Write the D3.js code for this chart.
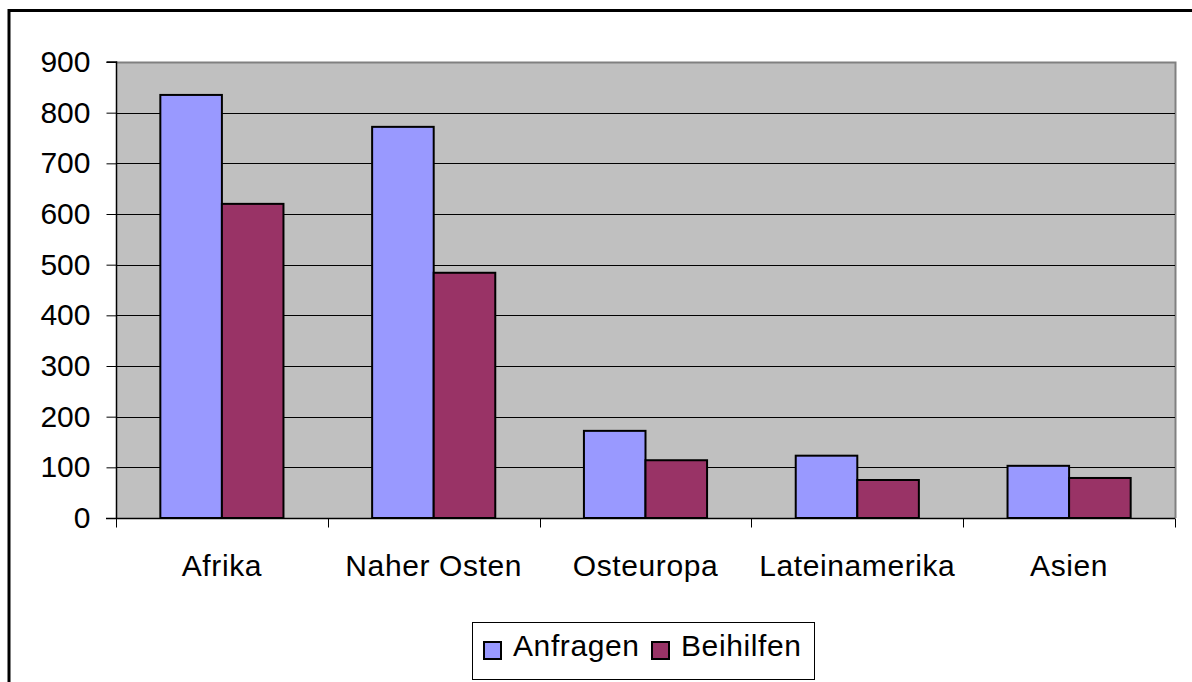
<!DOCTYPE html>
<html><head><meta charset="utf-8">
<script src="https://cdn.jsdelivr.net/npm/d3@7"></script>
<style>html,body{margin:0;padding:0;background:#fff;overflow:hidden}</style>
</head><body>
<svg id="chart" width="1192" height="682"></svg>
<script>
const categories = ["Afrika", "Naher Osten", "Osteuropa", "Lateinamerika", "Asien"];
const seriesNames = ["Anfragen", "Beihilfen"];
const anfragen = [835, 772, 172, 123, 103];
const beihilfen = [620, 484, 114, 75, 79];
const yTicks = [0, 100, 200, 300, 400, 500, 600, 700, 800, 900];
const colors = ["#9999FF", "#993366"];

const svg = d3.select("#chart");
const font = "'Liberation Sans', Arial, sans-serif";
const fs = 30;

// outer frame
svg.append("rect").attr("x", 9).attr("y", 10.5).attr("width", 1250).attr("height", 800)
  .attr("fill", "none").attr("stroke", "#000").attr("stroke-width", 3);

const L = 116, R = 1175, T = 62, B = 518;
const x = d3.scaleBand().domain(categories).range([L, R]).paddingInner(0).paddingOuter(0);
const y = d3.scaleLinear().domain([0, 900]).range([B, T]);
const inner = d3.scaleBand().domain(seriesNames).range([0, x.bandwidth()]).paddingInner(0).paddingOuter(0.72);

// plot background
svg.append("rect").attr("x", L).attr("y", T).attr("width", R - L).attr("height", B - T).attr("fill", "#C0C0C0");
// top/right border of plot
svg.append("path").attr("d", `M${L},${T + 0.5}H${R + 0.5}V${B}`).attr("fill", "none").attr("stroke", "#808080").attr("stroke-width", 2);

// gridlines
svg.append("g").selectAll("line").data(yTicks.filter(d => d > 0 && d < 900)).join("line")
  .attr("x1", L).attr("x2", R).attr("y1", d => Math.round(y(d)) + 0.5).attr("y2", d => Math.round(y(d)) + 0.5)
  .attr("stroke", "#000").attr("stroke-width", 1);

// bars
const data = categories.map((c, i) => ({c, vals: [anfragen[i], beihilfen[i]]}));
const g = svg.append("g");
data.forEach(d => {
  d.vals.forEach((v, j) => {
    g.append("rect")
      .attr("x", x(d.c) + inner(seriesNames[j]))
      .attr("y", y(v))
      .attr("width", inner.bandwidth())
      .attr("height", B - y(v))
      .attr("fill", colors[j]).attr("stroke", "#000").attr("stroke-width", 2);
  });
});

// y axis
const yAxis = d3.axisLeft(y).tickValues(yTicks).tickSize(10).tickPadding(16);
const ya = svg.append("g").attr("transform", `translate(${L + 0.5},0)`).call(yAxis);
ya.select(".domain").attr("stroke", "#000").attr("stroke-width", 1.5).attr("d", `M-10,${T}H0V${B}`);
ya.selectAll(".tick line").attr("stroke", "#000");
ya.selectAll("text").attr("font-family", font).attr("font-size", fs).attr("fill", "#000");

// x axis
const xa = svg.append("g").attr("transform", `translate(0,${B + 0.5})`);
xa.append("line").attr("x1", L - 10).attr("x2", R).attr("y1", 0).attr("y2", 0).attr("stroke", "#000").attr("stroke-width", 1.5);
const bounds = categories.map(c => x(c)).concat([R]);
xa.selectAll(".xt").data(bounds).join("line").attr("class", "xt")
  .attr("x1", d => Math.round(d) + 0.5).attr("x2", d => Math.round(d) + 0.5).attr("y1", 0).attr("y2", 9)
  .attr("stroke", "#000");
xa.selectAll(".xl").data(categories).join("text").attr("class", "xl")
  .attr("x", d => x(d) + x.bandwidth() / 2).attr("y", 575 - B)
  .attr("text-anchor", "middle").attr("font-family", font).attr("font-size", fs)
  .attr("letter-spacing", 0.6).attr("fill", "#000").text(d => d);

// legend
const lg = svg.append("g");
lg.append("rect").attr("x", 472.5).attr("y", 622.5).attr("width", 342).attr("height", 57)
  .attr("fill", "#fff").attr("stroke", "#000").attr("stroke-width", 1);
const legendX = [484, 652];
seriesNames.forEach((s, i) => {
  lg.append("rect").attr("x", legendX[i]).attr("y", 642).attr("width", 17).attr("height", 17)
    .attr("fill", colors[i]).attr("stroke", "#000").attr("stroke-width", 2);
  lg.append("text").attr("x", legendX[i] + 29).attr("y", 656).attr("font-family", font).attr("font-size", fs)
    .attr("letter-spacing", 0.6).attr("fill", "#000").text(s);
});
</script>
</body></html>
